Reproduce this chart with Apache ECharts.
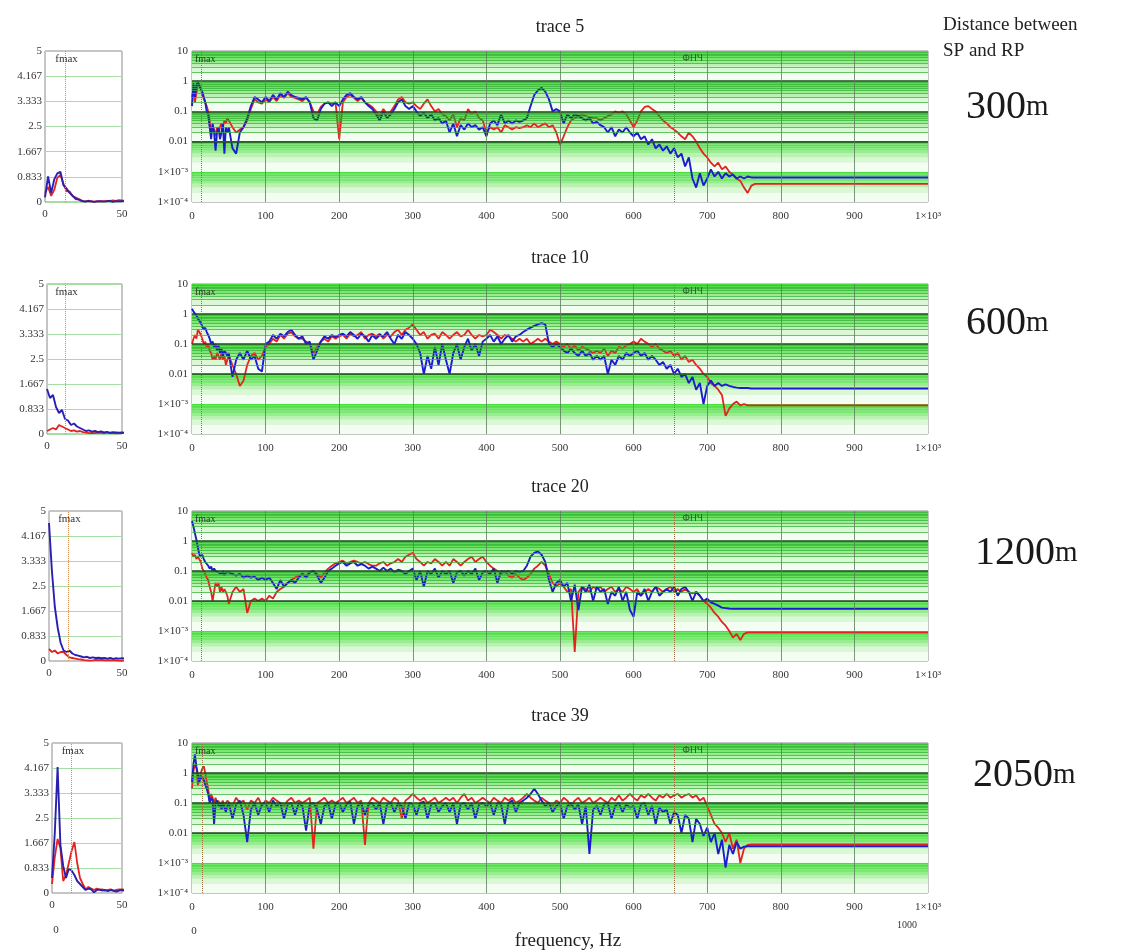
<!DOCTYPE html>
<html><head><meta charset="utf-8">
<script src="https://cdn.jsdelivr.net/npm/echarts/dist/echarts.min.js"></script>
<style>html,body{margin:0;padding:0;background:#fff}#c{width:1131px;height:952px}</style>
</head><body><div id="c"></div>
<script>
// ---------- DATA ----------
const freq = [0,2,4,6,8,10,12,14,16,18,20,22,24,26,28,30,32,34,36,38,40,42,44,46,48,
50,55,60,65,70,75,80,85,90,95,100,105,110,115,120,125,130,135,140,145,
150,155,160,165,170,175,180,185,190,195,200,205,210,215,220,225,230,235,240,245,
250,255,260,265,270,275,280,285,290,295,300,305,310,315,320,325,330,335,340,345,
350,355,360,365,370,375,380,385,390,395,400,405,410,415,420,425,430,435,440,445,
450,455,460,465,470,475,480,485,490,495,500,505,510,515,520,525,530,535,540,545,
550,555,560,565,570,575,580,585,590,595,600,605,610,615,620,625,630,635,640,645,
650,655,660,665,670,675,680,685,690,695,700,705,710,715,720,725,730,735,740,745,
750,755,760,765,770,775,780,1000];

const t5Blue = [0.15,0.85,0.3,0.75,0.95,1.0,0.55,0.45,0.3,0.2,0.1,0.08,0.03,0.012,0.04,0.02,0.005,0.02,0.03,0.012,0.02,0.04,0.004,0.03,0.02,
0.03,0.006,0.004,0.02,0.03,0.06,0.15,0.3,0.25,0.2,
0.3,0.22,0.35,0.25,0.4,0.3,0.45,0.35,0.3,0.28,
0.25,0.3,0.2,0.06,0.05,0.12,0.18,0.2,0.15,0.2,
0.15,0.25,0.35,0.4,0.3,0.25,0.3,0.2,0.15,0.12,
0.08,0.05,0.1,0.06,0.08,0.12,0.2,0.25,0.15,0.12,
0.15,0.1,0.07,0.09,0.06,0.08,0.05,0.06,0.04,0.05,
0.02,0.04,0.015,0.035,0.025,0.04,0.03,0.035,0.025,0.03,
0.015,0.04,0.05,0.035,0.08,0.04,0.05,0.04,0.05,0.045,
0.05,0.06,0.15,0.35,0.5,0.6,0.45,0.25,0.1,0.12,
0.1,0.04,0.08,0.06,0.08,0.07,0.06,0.05,0.06,0.04,
0.045,0.035,0.03,0.02,0.03,0.015,0.025,0.02,0.03,0.02,
0.015,0.02,0.012,0.015,0.008,0.012,0.006,0.008,0.005,0.007,
0.004,0.006,0.003,0.004,0.0015,0.003,0.0006,0.0003,0.0009,0.00035,
0.0006,0.0012,0.0007,0.001,0.0006,0.0009,0.0007,0.0008,0.0006,0.0007,
0.0006,0.0007,0.00065,0.00065,0.00065,0.00065,0.00065,0.00065];

const t5Red = [0.3,0.5,0.2,0.4,0.8,0.9,0.6,0.35,0.35,0.2,0.15,0.1,0.05,0.02,0.03,0.025,0.015,0.03,0.02,0.03,0.04,0.03,0.05,0.04,0.06,
0.05,0.03,0.02,0.025,0.03,0.05,0.12,0.25,0.2,0.18,
0.25,0.2,0.3,0.22,0.35,0.28,0.4,0.3,0.28,0.25,
0.22,0.28,0.2,0.1,0.08,0.14,0.18,0.2,0.18,0.2,
0.012,0.2,0.3,0.35,0.28,0.22,0.28,0.2,0.17,0.14,
0.1,0.07,0.12,0.08,0.1,0.15,0.25,0.3,0.2,0.18,
0.2,0.15,0.12,0.18,0.25,0.15,0.1,0.12,0.08,0.07,
0.05,0.08,0.03,0.06,0.05,0.12,0.08,0.1,0.06,0.05,
0.02,0.03,0.025,0.03,0.02,0.035,0.03,0.025,0.03,0.028,
0.03,0.035,0.03,0.04,0.03,0.035,0.04,0.03,0.035,0.02,
0.008,0.015,0.03,0.05,0.06,0.07,0.08,0.07,0.065,0.06,
0.06,0.05,0.06,0.07,0.08,0.1,0.09,0.1,0.08,0.05,
0.03,0.05,0.1,0.14,0.15,0.12,0.1,0.07,0.05,0.04,
0.03,0.025,0.02,0.015,0.012,0.02,0.015,0.01,0.006,0.004,
0.003,0.002,0.0015,0.002,0.0012,0.0015,0.001,0.0008,0.0006,0.0005,
0.0003,0.0002,0.00035,0.0004,0.0004,0.0004,0.0004,0.0004];

const t10Blue = [1.5,1.2,1.3,0.9,0.7,0.8,0.5,0.45,0.3,0.35,0.25,0.2,0.15,0.1,0.12,0.08,0.1,0.06,0.09,0.05,0.07,0.04,0.06,0.05,0.04,
0.05,0.008,0.03,0.05,0.03,0.06,0.03,0.04,0.015,0.012,
0.1,0.12,0.2,0.15,0.22,0.18,0.25,0.3,0.2,0.15,
0.18,0.1,0.12,0.03,0.06,0.12,0.18,0.15,0.2,0.17,
0.2,0.22,0.18,0.25,0.2,0.15,0.22,0.18,0.12,0.2,
0.15,0.2,0.18,0.25,0.15,0.1,0.2,0.15,0.25,0.2,
0.15,0.1,0.05,0.01,0.04,0.015,0.08,0.02,0.1,0.03,
0.01,0.05,0.1,0.03,0.08,0.15,0.06,0.1,0.04,0.12,
0.15,0.2,0.12,0.18,0.1,0.15,0.2,0.12,0.18,0.2,
0.25,0.3,0.35,0.4,0.45,0.5,0.45,0.1,0.08,0.1,
0.08,0.06,0.05,0.07,0.05,0.04,0.06,0.04,0.05,0.03,
0.04,0.03,0.04,0.01,0.03,0.02,0.04,0.03,0.05,0.04,
0.05,0.06,0.04,0.05,0.03,0.04,0.03,0.02,0.025,0.015,
0.02,0.01,0.015,0.008,0.01,0.005,0.008,0.003,0.005,0.001,
0.004,0.006,0.004,0.005,0.004,0.0045,0.004,0.0037,0.0035,0.0034,
0.0034,0.0034,0.0033,0.0033,0.0033,0.0033,0.0033,0.0033];

const t10Red = [0.1,0.15,0.2,0.15,0.3,0.25,0.2,0.15,0.1,0.12,0.08,0.1,0.06,0.05,0.03,0.04,0.03,0.05,0.04,0.03,0.05,0.03,0.04,0.02,0.03,
0.04,0.02,0.01,0.004,0.006,0.02,0.04,0.05,0.03,0.04,
0.08,0.1,0.15,0.12,0.2,0.15,0.22,0.25,0.18,0.15,
0.15,0.12,0.1,0.05,0.08,0.12,0.15,0.12,0.18,0.15,
0.18,0.2,0.15,0.22,0.18,0.2,0.25,0.15,0.2,0.22,
0.18,0.22,0.15,0.2,0.18,0.25,0.3,0.2,0.3,0.35,
0.45,0.3,0.2,0.25,0.15,0.2,0.22,0.15,0.25,0.2,
0.15,0.2,0.25,0.18,0.2,0.3,0.2,0.15,0.2,0.18,
0.2,0.3,0.25,0.2,0.15,0.2,0.18,0.15,0.12,0.15,
0.12,0.15,0.1,0.12,0.15,0.12,0.15,0.12,0.1,0.12,
0.1,0.08,0.1,0.07,0.09,0.06,0.08,0.07,0.06,0.05,
0.06,0.05,0.07,0.04,0.06,0.05,0.08,0.07,0.09,0.1,
0.12,0.1,0.15,0.12,0.1,0.08,0.1,0.07,0.06,0.05,
0.06,0.04,0.05,0.03,0.04,0.025,0.03,0.02,0.015,0.01,
0.008,0.005,0.004,0.003,0.002,0.0004,0.0007,0.001,0.0012,0.0009,
0.001,0.0009,0.0009,0.0009,0.0009,0.0009,0.0009,0.0009];

const t20Blue = [4.6,3.0,1.8,1.1,0.6,0.35,0.3,0.35,0.25,0.2,0.18,0.15,0.12,0.14,0.1,0.12,0.1,0.11,0.09,0.1,0.08,0.1,0.07,0.09,0.08,
0.09,0.08,0.07,0.08,0.06,0.07,0.06,0.065,0.05,0.06,
0.05,0.06,0.04,0.025,0.05,0.03,0.04,0.05,0.04,0.06,
0.08,0.06,0.09,0.1,0.07,0.04,0.06,0.1,0.12,0.15,
0.18,0.2,0.15,0.18,0.2,0.15,0.17,0.15,0.12,0.14,
0.12,0.1,0.13,0.1,0.12,0.09,0.11,0.1,0.08,0.1,
0.12,0.05,0.1,0.03,0.1,0.08,0.12,0.06,0.1,0.08,
0.1,0.04,0.09,0.1,0.07,0.1,0.08,0.12,0.05,0.09,
0.1,0.08,0.12,0.04,0.1,0.09,0.1,0.08,0.1,0.09,
0.1,0.15,0.3,0.4,0.45,0.35,0.2,0.05,0.02,0.04,
0.05,0.03,0.04,0.01,0.035,0.005,0.03,0.02,0.035,0.01,
0.03,0.02,0.025,0.008,0.02,0.015,0.03,0.01,0.02,0.005,
0.003,0.02,0.015,0.025,0.01,0.02,0.03,0.015,0.02,0.025,
0.02,0.03,0.015,0.025,0.03,0.02,0.01,0.02,0.015,0.01,
0.012,0.009,0.008,0.007,0.006,0.0058,0.0056,0.0055,0.0055,0.0055,
0.0055,0.0055,0.0055,0.0055,0.0055,0.0055,0.0055,0.0055];

const t20Red = [0.4,0.3,0.35,0.25,0.3,0.3,0.2,0.12,0.1,0.08,0.06,0.05,0.03,0.02,0.01,0.02,0.04,0.03,0.04,0.02,0.03,0.02,0.025,0.02,0.015,
0.008,0.02,0.03,0.02,0.025,0.004,0.01,0.012,0.01,0.012,
0.01,0.015,0.012,0.02,0.025,0.03,0.04,0.05,0.06,0.07,
0.08,0.07,0.09,0.1,0.08,0.06,0.09,0.12,0.15,0.18,
0.2,0.22,0.18,0.2,0.22,0.2,0.18,0.2,0.17,0.15,
0.15,0.18,0.2,0.15,0.18,0.2,0.25,0.2,0.3,0.35,
0.4,0.25,0.2,0.15,0.2,0.18,0.25,0.2,0.15,0.2,
0.15,0.25,0.2,0.15,0.2,0.25,0.3,0.2,0.25,0.3,
0.2,0.15,0.12,0.1,0.08,0.1,0.07,0.06,0.08,0.06,
0.05,0.06,0.08,0.12,0.15,0.2,0.15,0.08,0.04,0.03,
0.04,0.03,0.02,0.025,0.0002,0.02,0.03,0.025,0.02,0.03,
0.025,0.03,0.02,0.025,0.03,0.02,0.025,0.02,0.03,0.025,
0.02,0.025,0.015,0.02,0.025,0.02,0.03,0.025,0.02,0.025,
0.03,0.02,0.025,0.02,0.025,0.02,0.018,0.02,0.015,0.01,
0.008,0.006,0.004,0.003,0.002,0.0015,0.001,0.0006,0.0008,0.0005,
0.0008,0.0009,0.0009,0.0009,0.0009,0.0009,0.0009,0.0009];

const t39Blue = [0.5,2.0,4.2,1.6,0.9,0.5,0.8,0.75,0.6,0.4,0.3,0.2,0.1,0.15,0.12,0.02,0.1,0.12,0.08,0.1,0.06,0.1,0.07,0.05,0.08,
0.1,0.03,0.09,0.12,0.04,0.005,0.06,0.1,0.04,0.09,
0.1,0.05,0.12,0.08,0.1,0.03,0.09,0.1,0.04,0.1,
0.08,0.012,0.09,0.1,0.06,0.02,0.08,0.1,0.03,0.09,
0.1,0.05,0.09,0.11,0.02,0.08,0.1,0.04,0.09,0.1,
0.06,0.1,0.02,0.09,0.1,0.05,0.1,0.08,0.03,0.1,
0.09,0.04,0.1,0.11,0.03,0.09,0.1,0.05,0.08,0.1,
0.05,0.1,0.02,0.09,0.1,0.06,0.1,0.03,0.09,0.1,
0.08,0.1,0.04,0.1,0.09,0.02,0.1,0.12,0.05,0.1,
0.12,0.15,0.2,0.3,0.2,0.12,0.08,0.1,0.05,0.08,
0.1,0.03,0.08,0.1,0.06,0.09,0.02,0.08,0.002,0.06,
0.08,0.04,0.09,0.1,0.03,0.08,0.1,0.05,0.09,0.07,
0.08,0.03,0.09,0.1,0.04,0.08,0.02,0.07,0.05,0.06,
0.02,0.05,0.04,0.01,0.04,0.03,0.005,0.03,0.02,0.008,
0.015,0.005,0.01,0.002,0.006,0.0007,0.004,0.002,0.005,0.003,
0.0035,0.0036,0.0036,0.0036,0.0036,0.0036,0.0036,0.0036];

const t39Red = [0.3,1.2,1.8,1.5,0.4,0.6,1.0,1.4,1.7,1.0,0.5,0.3,0.12,0.2,0.15,0.1,0.15,0.1,0.12,0.08,0.1,0.12,0.08,0.1,0.12,
0.12,0.08,0.15,0.1,0.12,0.06,0.12,0.1,0.15,0.08,
0.12,0.1,0.15,0.12,0.1,0.08,0.12,0.15,0.1,0.12,
0.1,0.12,0.15,0.003,0.1,0.12,0.15,0.1,0.12,0.1,
0.12,0.15,0.1,0.12,0.15,0.1,0.12,0.004,0.1,0.15,
0.12,0.1,0.15,0.12,0.1,0.15,0.12,0.03,0.12,0.15,
0.2,0.15,0.12,0.15,0.1,0.12,0.15,0.1,0.12,0.15,
0.12,0.15,0.1,0.15,0.2,0.12,0.15,0.1,0.12,0.15,
0.12,0.1,0.15,0.12,0.1,0.15,0.12,0.15,0.1,0.12,
0.15,0.2,0.15,0.12,0.1,0.15,0.12,0.1,0.08,0.12,
0.1,0.15,0.12,0.08,0.12,0.15,0.1,0.12,0.15,0.1,
0.12,0.15,0.12,0.1,0.15,0.12,0.18,0.12,0.15,0.2,
0.15,0.12,0.18,0.15,0.2,0.15,0.12,0.18,0.15,0.2,
0.15,0.18,0.2,0.15,0.18,0.2,0.15,0.18,0.12,0.15,
0.08,0.04,0.02,0.015,0.01,0.005,0.01,0.003,0.006,0.001,
0.003,0.004,0.0042,0.0042,0.0042,0.0042,0.0042,0.0042];

const traceTitles = ['trace 5','trace 10','trace 20','trace 39'];
const distances = ['300','600','1200','2050'];
const fmaxHz = [13, 12, 13, 14];
const lpfHz = 655;
const smallYTicks = ['0','0.833','1.667','2.5','3.333','4.167','5'];
const bigYTicks = ['1×10⁻⁴','1×10⁻³','0.01','0.1','1','10'];   // exponents -4..1
const bigXTicks = ['0','100','200','300','400','500','600','700','800','900','1×10³'];
const redSeries = [t5Red, t10Red, t20Red, t39Red];
const blueSeries = [t5Blue, t10Blue, t20Blue, t39Blue];

// ---------- LAYOUT ----------
const FONT = 'Liberation Serif';
const rowTop = [51, 284, 511, 743];
const rowH = [151, 150, 150, 150];
const smallLeft = [45, 47, 49, 52];
const smallRight = 122;
const bigLeft = 192, bigW = 736;
const titleY = [27, 258, 487, 716];
const distY = [107, 323, 553, 775];
const distX = [966, 966, 975, 973];
const RED = '#e3231f', BLUE = '#1c1ccf';
const bandColors = ['#f4fdf2','#dbf8d6','#bbf2b3','#99ec90','#7be873','#67e55e','#5be252','#52df48','#4adc40'];

const grids = [], xAxes = [], yAxes = [], series = [], graphics = [];
const pairs = (vals) => freq.map((f, i) => [f, vals[i]]);

const bandData = [], minorLines = [], majorLines = [], vLines = [];
for (let n = -4; n <= 0; n++) {
  for (let k = 1; k <= 9; k++) {
    bandData.push([{ yAxis: k * Math.pow(10, n), itemStyle: { color: bandColors[k - 1] } }, { yAxis: (k + 1) * Math.pow(10, n) }]);
    if (k >= 2) minorLines.push({ yAxis: k * Math.pow(10, n) });
  }
  if (n > -4) majorLines.push({ yAxis: Math.pow(10, n) });
}
for (let x = 100; x <= 900; x += 100) vLines.push({ xAxis: x });

for (let i = 0; i < 4; i++) {
  const gs = 2 * i, gb = 2 * i + 1;
  grids.push({ left: smallLeft[i], top: rowTop[i], width: smallRight - smallLeft[i], height: rowH[i],
    show: true, borderColor: '#8c8c8c', borderWidth: 1, backgroundColor: '#ffffff', containLabel: false, outerBoundsMode: 'none' });
  grids.push({ left: bigLeft, top: rowTop[i], width: bigW, height: rowH[i],
    show: true, borderColor: '#8c8c8c', borderWidth: 1, backgroundColor: 'transparent', containLabel: false, outerBoundsMode: 'none' });

  const lbl = { fontFamily: FONT, fontSize: 11, color: '#333' };
  xAxes.push({ gridIndex: gs, type: 'value', min: 0, max: 50, interval: 50,
    axisLine: { show: false }, axisTick: { show: false }, splitLine: { show: false },
    axisLabel: Object.assign({ margin: 7 }, lbl) });
  yAxes.push({ gridIndex: gs, type: 'value', min: 0, max: 5, interval: 5 / 6,
    axisLine: { show: false }, axisTick: { show: false },
    splitLine: { show: true, lineStyle: { color: '#a6dca6', width: 1 } },
    axisLabel: Object.assign({ margin: 3, formatter: v => smallYTicks[Math.round(v * 6 / 5)] }, lbl) });
  xAxes.push({ gridIndex: gb, type: 'value', min: 0, max: 1000, interval: 100,
    axisLine: { show: false }, axisTick: { show: false }, splitLine: { show: false },
    axisLabel: Object.assign({ margin: 9, formatter: v => bigXTicks[Math.round(v / 100)] }, lbl) });
  yAxes.push({ gridIndex: gb, type: 'log', logBase: 10, min: 1e-4, max: 10,
    axisLine: { show: false }, axisTick: { show: false }, splitLine: { show: false },
    axisLabel: Object.assign({ margin: 4, formatter: v => bigYTicks[Math.round(Math.log10(v)) + 4] }, lbl) });

  // small panel
  series.push({ type: 'line', xAxisIndex: gs, yAxisIndex: gs, data: pairs(redSeries[i]), symbol: 'none', z: 3,
    lineStyle: { color: RED, width: 1.8 }, itemStyle: { color: RED }, silent: true });
  series.push({ type: 'line', xAxisIndex: gs, yAxisIndex: gs, data: pairs(blueSeries[i]), symbol: 'none', z: 4,
    lineStyle: { color: '#2a20b0', width: 1.9 }, itemStyle: { color: BLUE }, silent: true });
  series.push({ type: 'line', xAxisIndex: gs, yAxisIndex: gs, data: [[fmaxHz[i], 0]], symbol: 'none', z: 2, silent: true,
    lineStyle: { opacity: 0 },
    markLine: { silent: true, symbol: ['none', 'none'], label: { show: false },
      lineStyle: { color: '#d88a4a', type: 'dotted', width: 1 }, data: [{ xAxis: fmaxHz[i] }] },
    markPoint: { symbol: 'circle', symbolSize: 0, silent: true,
      data: [{ coord: [fmaxHz[i] + 1, 5], label: { show: true, formatter: 'fmax', position: 'bottom', distance: 3,
        fontFamily: FONT, fontSize: 11, color: '#333' } }] } });

  // big panel background
  series.push({ type: 'line', xAxisIndex: gb, yAxisIndex: gb, data: [[500, 1]], symbol: 'none', z: 1, silent: true,
    lineStyle: { opacity: 0 },
    markArea: { silent: true, data: bandData } });
  series.push({ type: 'line', xAxisIndex: gb, yAxisIndex: gb, data: [[500, 1]], symbol: 'none', z: 2, silent: true,
    lineStyle: { opacity: 0 },
    markLine: { silent: true, symbol: ['none', 'none'], label: { show: false }, animation: false,
      data: [].concat(
        minorLines.map(d => Object.assign({ lineStyle: { color: '#35b035', width: 1, type: 'solid', opacity: 0.75 } }, d)),
        majorLines.map(d => Object.assign({ lineStyle: { color: '#1e4a1e', width: 1.5, type: 'solid' } }, d)),
        vLines.map(d => Object.assign({ lineStyle: { color: '#5d7d5d', width: 1, type: 'solid', opacity: 0.8 } }, d)),
        [{ xAxis: fmaxHz[i], lineStyle: { color: '#9a7040', width: 1, type: 'dotted' } },
         { xAxis: lpfHz, lineStyle: { color: '#9a7040', width: 1, type: 'dotted' } }]
      ) } });
  series.push({ type: 'line', xAxisIndex: gb, yAxisIndex: gb, data: pairs(redSeries[i]), symbol: 'none', z: 3,
    lineStyle: { color: RED, width: 1.8 }, itemStyle: { color: RED }, silent: true });
  series.push({ type: 'line', xAxisIndex: gb, yAxisIndex: gb, data: pairs(blueSeries[i]), symbol: 'none', z: 4,
    lineStyle: { color: BLUE, width: 1.9 }, itemStyle: { color: BLUE }, silent: true });
  series.push({ type: 'line', xAxisIndex: gb, yAxisIndex: gb, data: [[500, 1]], symbol: 'none', z: 5, silent: true,
    lineStyle: { opacity: 0 },
    markPoint: { symbol: 'circle', symbolSize: 0, silent: true,
      data: [
        { coord: [18, 10], label: { show: true, formatter: 'fmax', position: 'bottom', distance: 3, fontFamily: FONT, fontSize: 10, color: '#333' } },
        { coord: [680, 10], label: { show: true, formatter: 'ФНЧ', position: 'bottom', distance: 3, fontFamily: 'DejaVu Sans', fontSize: 9, color: '#2c5a2c' } }
      ] } });

  graphics.push({ type: 'text', x: 560, y: titleY[i], silent: true,
    style: { text: traceTitles[i], fontFamily: FONT, fontSize: 18, fill: '#222', align: 'center', verticalAlign: 'middle' } });
  graphics.push({ type: 'text', x: distX[i], y: distY[i], silent: true,
    style: { text: '{n|' + distances[i] + '}{u|m}', align: 'left', verticalAlign: 'middle',
      rich: { n: { fontFamily: FONT, fontSize: 40, fill: '#1a1a1a', color: '#1a1a1a' },
              u: { fontFamily: FONT, fontSize: 29, fill: '#1a1a1a', color: '#1a1a1a' } } } });
}

graphics.push({ type: 'text', x: 943, y: 25, silent: true,
  style: { text: 'Distance between', fontFamily: FONT, fontSize: 19, fill: '#222', align: 'left', verticalAlign: 'middle' } });
graphics.push({ type: 'text', x: 943, y: 51, silent: true,
  style: { text: 'SP and RP', fontFamily: FONT, fontSize: 19, fill: '#222', align: 'left', verticalAlign: 'middle' } });
graphics.push({ type: 'text', x: 568, y: 941, silent: true,
  style: { text: 'frequency, Hz', fontFamily: FONT, fontSize: 19, fill: '#222', align: 'center', verticalAlign: 'middle' } });
graphics.push({ type: 'text', x: 907, y: 925, silent: true,
  style: { text: '1000', fontFamily: FONT, fontSize: 10, fill: '#333', align: 'center', verticalAlign: 'middle' } });
graphics.push({ type: 'text', x: 56, y: 930, silent: true,
  style: { text: '0', fontFamily: FONT, fontSize: 11, fill: '#333', align: 'center', verticalAlign: 'middle' } });
graphics.push({ type: 'text', x: 194, y: 931, silent: true,
  style: { text: '0', fontFamily: FONT, fontSize: 11, fill: '#333', align: 'center', verticalAlign: 'middle' } });

const chart = echarts.init(document.getElementById('c'), null, { renderer: 'canvas' });
chart.setOption({
  animation: false,
  backgroundColor: '#ffffff',
  grid: grids, xAxis: xAxes, yAxis: yAxes, series: series, graphic: graphics
});
</script></body></html>
